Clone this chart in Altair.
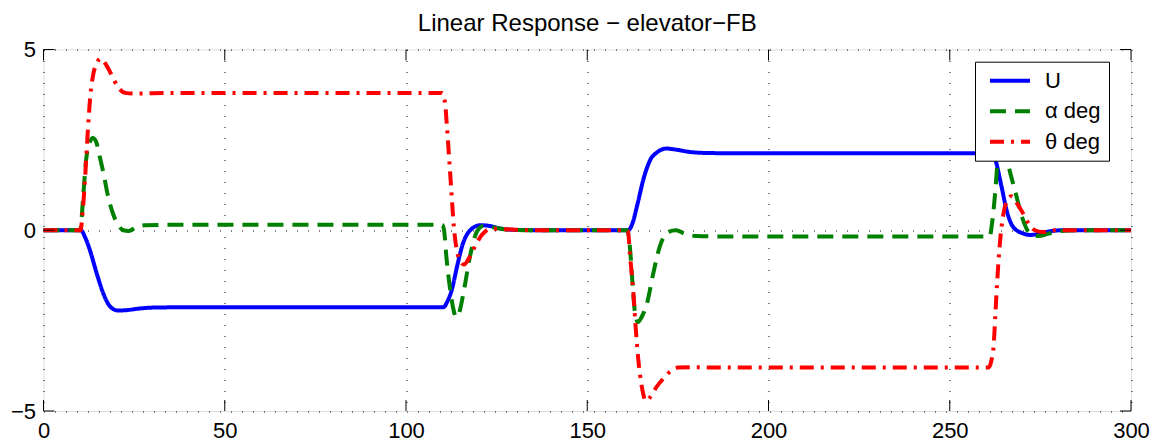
import altair as alt
import pandas as pd

title_text = "Linear Response \u2212 elevator\u2212FB"
series_names = ["U", "\u03b1 deg", "\u03b8 deg"]
series_colors = ["#0000ff", "#008000", "#ff0000"]
series_dashes = [[1, 0], [16, 9], [14, 7, 3, 7]]

x_ticks = [0, 50, 100, 150, 200, 250, 300]
y_ticks = [-5, 0, 5]

# U
u_t = [0, 10.3, 11.5, 12.8, 14.7, 16.5, 18.3, 20.5, 23, 26, 30, 40,
       110.3, 111.5, 112.6, 114.2, 115.6, 117.7, 120.5, 123, 126, 130, 140,
       161.3, 162.5, 163.8, 165.6, 167.4, 169.2, 171.8, 174.5, 178, 182, 190,
       261.8, 262.6, 264.3, 265.7, 267.5, 270.3, 272.1, 274.5, 277, 281, 300]
u_v = [0, 0, -0.2, -0.55, -1.2, -1.75, -2.1, -2.22, -2.21, -2.17, -2.14, -2.13,
       -2.13, -1.95, -1.66, -0.95, -0.4, 0.0, 0.14, 0.12, 0.05, 0.01, 0,
       0, 0.2, 0.7, 1.45, 1.95, 2.15, 2.26, 2.23, 2.17, 2.14, 2.13,
       2.13, 1.94, 1.2, 0.55, 0.09, -0.09, -0.13, -0.1, -0.04, 0, 0]

# alpha
a_t = [0, 10.1, 11, 11.7, 12.5, 13.6, 14.5, 15.6, 16.5, 17.9, 19.2, 20.6, 22, 23.5, 25.5, 28, 35,
       110, 110.5, 111.2, 112.2, 113, 113.8, 114.6, 116, 117.7, 119.5, 121.3, 124, 128, 135,
       161, 161.8, 162.5, 163.2, 164, 165, 166.4, 168.2, 170, 172.3, 174.5, 177, 180, 185,
       261, 261.8, 262.5, 263.2, 264, 264.6, 265.3, 266.1, 268, 270, 272.2, 274.5, 277, 280, 285, 300]
a_v = [0, 0, 1.0, 1.9, 2.35, 2.55, 2.45, 2.0, 1.6, 0.9, 0.45, 0.15, 0.0, -0.02, 0.08, 0.14, 0.15,
       0.15, 0.0, -0.8, -1.65, -2.15, -2.4, -2.3, -1.65, -0.7, -0.05, 0.12, 0.08, 0.02, 0,
       0, -0.5, -1.5, -2.3, -2.54, -2.4, -2.05, -1.2, -0.45, -0.05, 0.0, -0.1, -0.16, -0.17,
       -0.17, 0.3, 1.0, 1.9, 2.4, 2.5, 2.3, 1.85, 1.1, 0.35, -0.1, -0.16, -0.1, -0.03, 0, 0]

# theta
h_t = [0, 10.2, 10.8, 11.5, 12.2, 12.9, 13.7, 14.7, 15.7, 17, 18.5, 20.5, 22.5, 25, 35,
       110, 110.8, 111.3, 111.9, 112.5, 113.2, 114, 115, 116, 117.5, 119, 121, 123.5, 127, 135,
       161.2, 161.8, 162.7, 163.3, 164.1, 165, 166.2, 167.5, 169, 171, 173, 175, 180, 185,
       260.7, 261.5, 262.1, 262.6, 263.1, 263.8, 264.8, 266, 267, 268.5, 270.3, 272, 273.5, 275.7, 279, 300]
h_v = [0, 0, 0.5, 1.5, 2.7, 3.7, 4.3, 4.62, 4.75, 4.62, 4.35, 3.97, 3.8, 3.78, 3.8,
       3.8, 3.5, 2.86, 2.0, 1.1, 0.1, -0.55, -0.85, -0.95, -0.75, -0.45, -0.12, 0.04, 0.03, 0,
       0, -0.7, -1.7, -2.6, -3.6, -4.3, -4.72, -4.6, -4.35, -4.1, -3.9, -3.8, -3.79, -3.8,
       -3.8, -3.6, -3.2, -2.3, -1.4, -0.4, 0.45, 0.85, 0.94, 0.75, 0.45, 0.15, 0.0, -0.05, 0, 0]

W = 1087.5
H = 361.5
FONT = "Liberation Sans"

xscale = alt.Scale(domain=[0, 300], nice=False, zero=False)
yscale = alt.Scale(domain=[-5, 5], nice=False, zero=False)

legend_props = dict(
    symbolType="M-4,0H4",
    symbolSize=100,
    symbolStrokeWidth=4,
    symbolOffset=16,
    labelOffset=24,
    labelFontSize=22,
    labelFont=FONT,
    labelColor="black",
    rowPadding=8.5,
    padding=8,
    strokeColor="black",
    fillColor="white",
    orient="none",
    legendX=931.5,
    legendY=12.2,
)

color_enc = alt.Color("series:N", scale=alt.Scale(domain=series_names, range=series_colors),
                      title=None, legend=alt.Legend(**legend_props))
dash_enc = alt.StrokeDash("series:N", scale=alt.Scale(domain=series_names, range=series_dashes),
                          title=None, legend=alt.Legend(**legend_props))

x_axis = alt.Axis(values=x_ticks, grid=True, gridDash=[1, 10], gridColor="black", gridWidth=1,
                  ticks=False, domain=False, labelFontSize=22, labelFont=FONT, labelColor="black",
                  labelPadding=9, labelFlush=False, labelOverlap=False, title=None)
y_axis = alt.Axis(values=y_ticks, grid=True, gridDash=[1, 10], gridColor="black", gridWidth=1,
                  ticks=False, domain=False, labelFontSize=22, labelFont=FONT, labelColor="black",
                  labelPadding=8, labelFlush=False, labelOverlap=False, format="d", title=None)


def series_layer(name, ts, vs):
    df = pd.DataFrame({"t": ts, "v": vs, "series": name})
    return alt.Chart(df).mark_line(interpolate="monotone", strokeWidth=4).encode(
        x=alt.X("t:Q", scale=xscale, axis=x_axis),
        y=alt.Y("v:Q", scale=yscale, axis=y_axis),
        color=color_enc,
        strokeDash=dash_enc,
    )


lines_u = series_layer(series_names[0], u_t, u_v)
lines_a = series_layer(series_names[1], a_t, a_v)
lines_h = series_layer(series_names[2], h_t, h_v)

xt = pd.DataFrame({"t": x_ticks})
yt = pd.DataFrame({"v": y_ticks})
top_ticks = alt.Chart(xt).mark_rule(color="black", strokeWidth=1).encode(
    x=alt.X("t:Q", scale=xscale, axis=x_axis), y=alt.value(0), y2=alt.value(11))
bottom_ticks = alt.Chart(xt).mark_rule(color="black", strokeWidth=1).encode(
    x=alt.X("t:Q", scale=xscale, axis=x_axis), y=alt.value(H - 11), y2=alt.value(H))
left_ticks = alt.Chart(yt).mark_rule(color="black", strokeWidth=1).encode(
    y=alt.Y("v:Q", scale=yscale, axis=y_axis), x=alt.value(0), x2=alt.value(11))
right_ticks = alt.Chart(yt).mark_rule(color="black", strokeWidth=1).encode(
    y=alt.Y("v:Q", scale=yscale, axis=y_axis), x=alt.value(W - 11), x2=alt.value(W))

chart = alt.layer(
    lines_u, lines_a, lines_h, top_ticks, bottom_ticks, left_ticks, right_ticks
).properties(
    width=W,
    height=H,
    title=alt.TitleParams(text=title_text, fontSize=24, font=FONT, fontWeight="normal",
                          color="black", anchor="middle", baseline="alphabetic", offset=-7, dy=9),
    autosize=alt.AutoSizeParams(type="none"),
    padding={"left": 43.5, "top": 49.5, "right": 21.5, "bottom": 32.5},
).configure_view(
    stroke="black", strokeWidth=1
).configure(
    background="white"
)

chart.save("out.html", embed_options={"renderer": "svg", "actions": False})
